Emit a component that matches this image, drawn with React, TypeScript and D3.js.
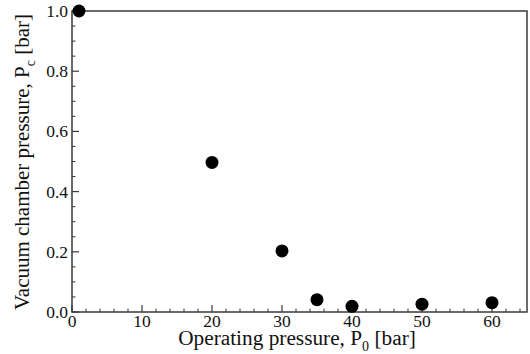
import React, { useEffect, useRef } from 'react';
import * as d3 from 'd3';

const operatingPressure = [1, 20, 30, 35, 40, 50, 60];
const chamberPressure = [1.0, 0.497, 0.203, 0.041, 0.019, 0.026, 0.031];
const xTicks = [0, 10, 20, 30, 40, 50, 60];
const yTicks = [0, 0.2, 0.4, 0.6, 0.8, 1.0];

const App = () => {
    const chartRef = useRef<SVGSVGElement>(null);

    useEffect(() => {
        drawChart();
    }, []);

    const drawChart = () => {
        const width = 530;
        const height = 354;
        const margin = { top: 11, right: 3, bottom: 42, left: 72 };
        const innerW = width - margin.left - margin.right;
        const innerH = height - margin.top - margin.bottom;
        const font = "'Liberation Serif', 'DejaVu Serif', serif";
        const axisColor = '#3a3a3a';

        const root = d3.select(chartRef.current);
        root.selectAll('*').remove();
        root.attr('width', width).attr('height', height)
            .style('font-family', font);

        const svg = root.append('g')
            .attr('transform', `translate(${margin.left},${margin.top})`);

        const x = d3.scaleLinear().domain([0, 65]).range([0, innerW]);
        const y = d3.scaleLinear().domain([0, 1.0]).range([innerH, 0]);

        // frame
        svg.append('rect')
            .attr('width', innerW)
            .attr('height', innerH)
            .attr('fill', 'none')
            .attr('stroke', axisColor)
            .attr('stroke-width', 1.5);

        // minor ticks every 2 bar / 0.05 bar
        const xMinor = d3.range(0, 65, 2).filter(v => v % 10 !== 0);
        const yMinor = d3.range(0, 1.0001, 0.05).filter((_, i) => i % 4 !== 0);

        const xAxis = svg.append('g')
            .attr('transform', `translate(0,${innerH})`);
        xAxis.selectAll('.minor')
            .data(xMinor)
            .enter().append('line')
            .attr('x1', d => x(d)).attr('x2', d => x(d))
            .attr('y1', 0).attr('y2', -3.5)
            .attr('stroke', axisColor).attr('stroke-width', 1);
        xAxis.selectAll('.major')
            .data(xTicks)
            .enter().append('line')
            .attr('x1', d => x(d)).attr('x2', d => x(d))
            .attr('y1', 0).attr('y2', -7)
            .attr('stroke', axisColor).attr('stroke-width', 1.2);
        xAxis.selectAll('text')
            .data(xTicks)
            .enter().append('text')
            .attr('x', d => x(d))
            .attr('y', 15)
            .attr('text-anchor', 'middle')
            .attr('font-size', 17.5)
            .attr('fill', '#111')
            .text(d => d3.format('d')(d));

        const yAxis = svg.append('g');
        yAxis.selectAll('.minor')
            .data(yMinor)
            .enter().append('line')
            .attr('x1', 0).attr('x2', 3.5)
            .attr('y1', d => y(d)).attr('y2', d => y(d))
            .attr('stroke', axisColor).attr('stroke-width', 1);
        yAxis.selectAll('.major')
            .data(yTicks)
            .enter().append('line')
            .attr('x1', 0).attr('x2', 7)
            .attr('y1', d => y(d)).attr('y2', d => y(d))
            .attr('stroke', axisColor).attr('stroke-width', 1.2);
        yAxis.selectAll('text')
            .data(yTicks)
            .enter().append('text')
            .attr('x', -4)
            .attr('y', d => y(d) + 6)
            .attr('text-anchor', 'end')
            .attr('font-size', 17.5)
            .attr('fill', '#111')
            .text(d => d3.format('.1f')(d));

        // points
        svg.selectAll('.dot')
            .data(operatingPressure)
            .enter().append('circle')
            .attr('cx', d => x(d))
            .attr('cy', (_, i) => y(chamberPressure[i]))
            .attr('r', 6.5)
            .attr('fill', '#000');

        // axis titles
        const xt = root.append('text')
            .attr('x', 297)
            .attr('y', 344.5)
            .attr('text-anchor', 'middle')
            .attr('font-size', 21.3)
            .attr('fill', '#111');
        xt.append('tspan').text('Operating pressure, P');
        xt.append('tspan').attr('font-size', 14).attr('dy', 6.5).text('0');
        xt.append('tspan').attr('dy', -6.5).text(' [bar]');

        const yt = root.append('text')
            .attr('transform', `translate(29,162) rotate(-90)`)
            .attr('text-anchor', 'middle')
            .attr('font-size', 21)
            .attr('fill', '#111');
        yt.append('tspan').text('Vacuum chamber pressure, P');
        yt.append('tspan').attr('font-size', 14).attr('dy', 5.5).text('c');
        yt.append('tspan').attr('dy', -5.5).text(' [bar]');
    };

    return (
        <svg ref={chartRef} style={{ position: 'absolute', left: 0, top: 0 }}></svg>
    );
};

export default App;
